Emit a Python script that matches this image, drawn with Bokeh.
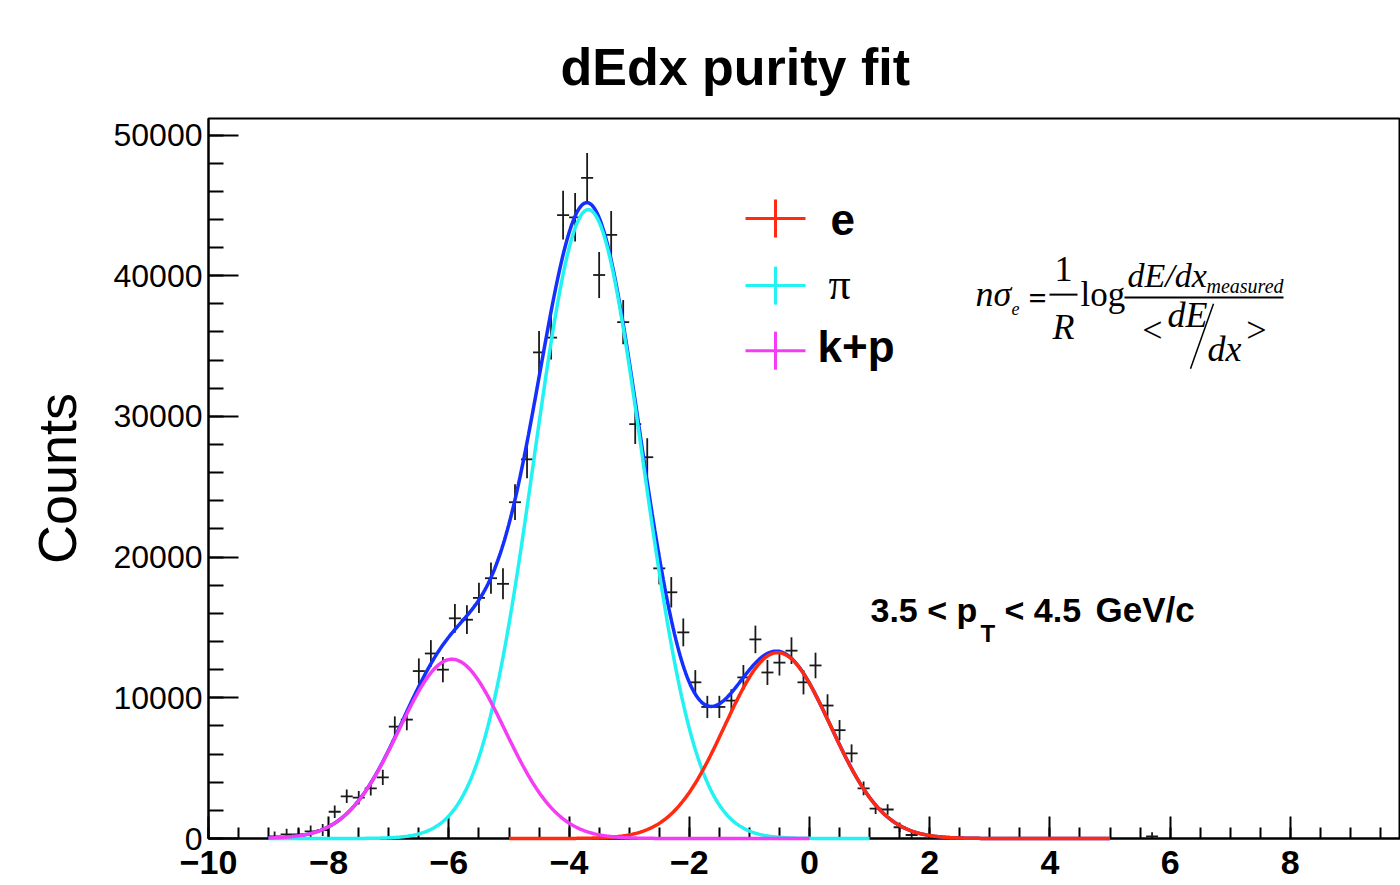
import numpy as np
from bokeh.plotting import figure
from bokeh.models import FixedTicker, Label, BasicTickFormatter
from bokeh.embed import file_html
from bokeh.resources import INLINE

# ---------------- data ----------------
bin_centers = [-8.9, -8.7, -8.5, -8.3, -8.1, -7.9, -7.7, -7.5, -7.3, -7.1,
               -6.9, -6.7, -6.5, -6.3, -6.1, -5.9, -5.7, -5.5, -5.3, -5.1,
               -4.9, -4.7, -4.5, -4.3, -4.1, -3.9, -3.7, -3.5, -3.3, -3.1,
               -2.9, -2.7, -2.5, -2.3, -2.1, -1.9, -1.7, -1.5, -1.3, -1.1,
               -0.9, -0.7, -0.5, -0.3, -0.1, 0.1, 0.3, 0.5, 0.7, 0.9,
               1.1, 1.3, 1.5, 1.7, 5.7]
counts = [150, 300, 300, 500, 600, 1900, 3000, 2900, 3560, 4350,
          7950, 8450, 11900, 13150, 12000, 15650, 15550, 17100, 18500, 18100,
          23900, 26950, 34550, 35600, 44300, 44150, 46950, 40050, 42900, 36700,
          29450, 27100, 19200, 17500, 14650, 11100, 9350, 9350, 9800, 11450,
          14150, 11800, 12500, 13350, 11100, 12300, 9450, 7700, 6050, 3560,
          2130, 2060, 800, 250, 150]
count_errors = [350, 400, 400, 420, 430, 450, 480, 480, 500, 540,
                730, 760, 900, 950, 900, 1020, 1020, 1070, 1110, 1100,
                1270, 1350, 1520, 1550, 1730, 1720, 1780, 1640, 1700, 1570,
                1410, 1350, 1140, 1080, 990, 870, 790, 790, 810, 880,
                980, 890, 920, 950, 860, 910, 800, 720, 640, 490,
                380, 370, 330, 300, 300]
bin_half_width = 0.1

fit_names = ["e", "π", "k+p"]
fit_means = [-0.53, -3.68, -5.95]
fit_sigmas = [0.88, 0.90, 0.88]
fit_amplitudes = [13210, 44700, 12740]
fit_ranges = [(-5.0, 5.0), (-9.0, 1.0), (-9.0, 0.0)]
total_range = (-9.0, 5.0)

x_tick_values = [-10, -8, -6, -4, -2, 0, 2, 4, 6, 8, 10]
y_tick_values = [0, 10000, 20000, 30000, 40000, 50000]

# ---------------- styles ----------------
COL_E, COL_PI, COL_KP, COL_TOT = "#ff2a10", "#22f2f2", "#f53cf5", "#1430ff"
fit_colors = [COL_E, COL_PI, COL_KP]
SANS = "Liberation Sans"
SERIF = "Liberation Serif"

# frame geometry (pixels of the page)
FL, FT, FB, FR = 208, 118, 837.5, 1400
PX_X = 60.1          # pixels per x unit
PX_Y = 0.01406       # pixels per count
BASE_SHIFT = 0.37    # empirical baseline correction (em)

X_START = -10
X_END = X_START + (FR - FL) / PX_X
Y_END = (FB - FT) / PX_Y


def dx(px):
    return X_START + (px - FL) / PX_X


def dy(py):
    return (FB - py) / PX_Y


p = figure(width=1400, height=885, x_range=(X_START, X_END), y_range=(0, Y_END),
           output_backend="svg", toolbar_location=None,
           min_border_left=FL, min_border_right=0, min_border_top=FT,
           min_border_bottom=int(885 - FB))
p.background_fill_color = "white"
p.border_fill_color = "white"
p.outline_line_color = "black"
p.outline_line_width = 2
p.xgrid.visible = False
p.ygrid.visible = False

# title
p.title.text = "dEdx purity fit"
p.title.text_font = SANS
p.title.text_font_size = "52px"
p.title.text_font_style = "bold"
p.title.text_color = "black"
p.title.align = "left"
p.title.offset = 560 - FL
p.title.standoff = 46

# axes
p.xaxis.ticker = FixedTicker(ticks=x_tick_values,
                             minor_ticks=list(np.arange(-10, 10.01, 0.5)))
p.xaxis.major_label_overrides = {v: str(v).replace("-", "\u2212") for v in x_tick_values}
p.xaxis.major_tick_in = 22
p.xaxis.major_tick_out = 0
p.xaxis.minor_tick_in = 11
p.xaxis.minor_tick_out = 0
p.xaxis.major_label_text_font = SANS
p.xaxis.major_label_text_font_size = "34px"
p.xaxis.major_label_text_font_style = "bold"
p.xaxis.major_label_text_color = "black"
p.xaxis.major_label_standoff = 12

p.yaxis.ticker = FixedTicker(ticks=y_tick_values,
                             minor_ticks=list(range(0, 52000, 2000)))
p.yaxis.formatter = BasicTickFormatter(use_scientific=False)
p.yaxis.major_tick_in = 30
p.yaxis.major_tick_out = 0
p.yaxis.minor_tick_in = 15
p.yaxis.minor_tick_out = 0
p.yaxis.major_label_text_font = SANS
p.yaxis.major_label_text_font_size = "32px"
p.yaxis.major_label_text_color = "black"
p.yaxis.major_label_standoff = 6
p.yaxis.axis_label = "Counts"
p.yaxis.axis_label_text_font = SANS
p.yaxis.axis_label_text_font_size = "54px"
p.yaxis.axis_label_text_font_style = "normal"
p.yaxis.axis_label_text_color = "black"
p.yaxis.axis_label_standoff = 24

for ax in (p.xaxis, p.yaxis):
    ax.axis_line_color = "black"
    ax.axis_line_width = 2
    ax.major_tick_line_color = "black"
    ax.major_tick_line_width = 2
    ax.minor_tick_line_color = "black"
    ax.minor_tick_line_width = 2

# data points with error bars
xc = np.array(bin_centers)
yc = np.array(counts)
ye = np.array(count_errors)
p.segment(x0=xc - bin_half_width, x1=xc + bin_half_width, y0=yc, y1=yc,
          line_color="#1a1a1a", line_width=1.8)
p.segment(x0=xc, x1=xc, y0=yc - ye, y1=yc + ye,
          line_color="#1a1a1a", line_width=1.8)


def gauss(x, a, m, s):
    return a * np.exp(-0.5 * ((x - m) / s) ** 2)


# total fit
xt = np.linspace(total_range[0], total_range[1], 600)
yt = sum(gauss(xt, a, m, s) for a, m, s in zip(fit_amplitudes, fit_means, fit_sigmas))
p.line(xt, yt, line_color=COL_TOT, line_width=3.5, level="overlay")

# components: pion, electron, kaon+proton drawing order
for i in (1, 0, 2):
    lo, hi = fit_ranges[i]
    xs = np.linspace(lo, hi, 500)
    p.line(xs, gauss(xs, fit_amplitudes[i], fit_means[i], fit_sigmas[i]),
           line_color=fit_colors[i], line_width=3.5, level="overlay")


def add_text(px, py, text, size, font=SANS, style="normal", align="left"):
    p.add_layout(Label(x=dx(px), y=dy(py - BASE_SHIFT * size), text=text,
                       text_font=font, text_font_size=f"{size}px",
                       text_font_style=style, text_align=align,
                       text_baseline="alphabetic", text_color="black"))


def add_seg(px0, py0, px1, py1, color="black", width=2):
    p.segment(x0=[dx(px0)], y0=[dy(py0)], x1=[dx(px1)], y1=[dy(py1)],
              line_color=color, line_width=width)


# legend
legend_rows = [218, 285, 350]
legend_label_x = [830, 828, 817]
legend_label_base = [235, 300, 362]
legend_fonts = [(SANS, "bold"), (SERIF, "normal"), (SANS, "bold")]
for i, row in enumerate(legend_rows):
    add_seg(745, row, 805, row, fit_colors[i], 3)
    add_seg(775, row - 19, 775, row + 19, fit_colors[i], 3)
    add_text(legend_label_x[i], legend_label_base[i], fit_names[i], 44,
             font=legend_fonts[i][0], style=legend_fonts[i][1])

# formula
add_text(975, 307, "nσ", 36, SERIF, "italic")
add_text(1011, 315, "e", 18, SERIF, "italic")
add_text(1037, 309, "=", 32, SERIF, "bold", "center")
add_text(1063, 282, "1", 36, SERIF, "normal", "center")
add_seg(1049, 294, 1077, 294, "black", 2)
add_text(1063, 340, "R", 36, SERIF, "italic", "center")
add_text(1080, 307, "log", 35, SERIF, "normal")
add_text(1127, 287, "dE/dx", 34, SERIF, "italic")
add_text(1206, 293, "measured", 20, SERIF, "italic")
add_seg(1124, 297, 1283, 297, "black", 2)
add_text(1152, 343, "<", 36, SERIF, "normal", "center")
add_text(1167, 328, "dE", 36, SERIF, "italic")
add_seg(1190, 368, 1213, 303, "black", 1.5)
add_text(1207, 362, "dx", 36, SERIF, "italic")
add_text(1256, 343, ">", 36, SERIF, "normal", "center")

# momentum range
add_text(870, 622, "3.5 < p", 34, SANS, "bold")
add_text(980, 642, "T", 24, SANS, "bold")
add_text(1004, 622, "< 4.5", 34, SANS, "bold")
add_text(1095, 622, "GeV/c", 35, SANS, "bold")

open("out.html", "w").write(file_html(p, INLINE))
